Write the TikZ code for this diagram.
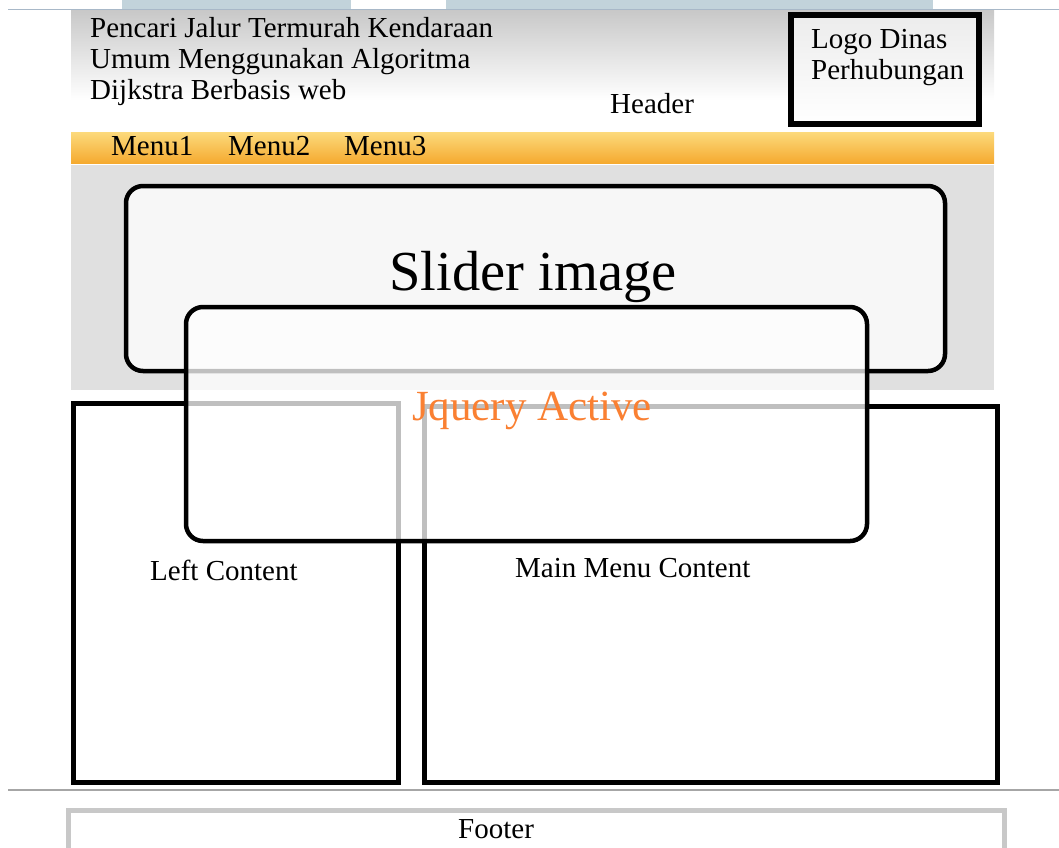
\documentclass[tikz,border=0pt]{standalone}
\usepackage{fontspec}
\setmainfont{Liberation Serif}
\usetikzlibrary{positioning}
\definecolor{hdgray}{RGB}{200,200,200}
\definecolor{logogray}{RGB}{236,236,236}
\definecolor{mnlight}{RGB}{252,218,124}
\definecolor{mndark}{RGB}{245,170,48}
\definecolor{bandgray}{RGB}{224,224,224}
\definecolor{slidefill}{RGB}{247,247,247}
\definecolor{jqorange}{RGB}{250,128,50}
\definecolor{stripblue}{RGB}{194,211,219}
\definecolor{edgeblue}{RGB}{168,184,200}
\definecolor{footgray}{RGB}{200,200,200}

\begin{document}
\begin{tikzpicture}[x=1pt, y=-1pt,
  txt/.style={font=\fontsize{29}{31}\selectfont, inner sep=0pt, anchor=base west},
  frame/.style={draw=black, line width=5pt},
  roundbox/.style={draw=black, line width=4.5pt, rounded corners=17pt}]
\useasboundingbox (0,0) rectangle (1059,847);
% page edge
\fill[stripblue] (122,0) rectangle (351,9);
\fill[stripblue] (446,0) rectangle (933,9);
\draw[edgeblue, line width=1pt] (8,9.5) -- (1059,9.5);
% Header
\shade[top color=hdgray, bottom color=white] (71,10) rectangle (994,100);
\draw[line width=6pt, top color=logogray, bottom color=white] (791,15) rectangle (979,124);
\node[txt, align=left, anchor=north west] (title) at (90,17.5)
  {Pencari Jalur Termurah Kendaraan\\Umum Menggunakan Algoritma\\Dijkstra Berbasis web};
\node[txt] (hdr) at (610,113) {Header};
\node[txt, align=left, anchor=north west] (logo) at (811,29.5)
  {Logo Dinas\\Perhubungan};
% Menu bar
\shade[top color=mnlight, bottom color=mndark] (71,132) rectangle (994,163);
\node[txt] (menuA) at (111,155) {Menu1};
\node[txt] (menuB) at (228,155) {Menu2};
\node[txt] (menuC) at (344,155) {Menu3};
% Slider
\fill[bandgray] (71,165) rectangle (994,390);
\draw[roundbox, fill=slidefill] (126,186) rectangle (945,371);
\node[font=\fontsize{56.5}{60}\selectfont, inner sep=0pt, anchor=base] (slider)
  at (533,290) {Slider image};
% Content boxes
\draw[frame] (73.5,403.5) rectangle (398,782);
\draw[frame] (424,406) rectangle (997,782);
\node[txt] (left) at (150,580) {Left Content};
\node[txt] (mainc) at (515,577) {Main Menu Content};
% Jquery layer
\draw[roundbox, fill=white, fill opacity=0.75] (186,307) rectangle (867,541);
\node[font=\fontsize{43}{46}\selectfont, text=jqorange, inner sep=0pt, anchor=base]
  (jquery) at (532,420) {Jquery Active};
% Footer
\draw[gray!70, line width=1.5pt] (8,790) -- (1059,790);
\draw[footgray, line width=5pt] (68,860) |- (1004,810) -- (1004,860);
\node[txt] (foot) at (458,838) {Footer};
\end{tikzpicture}
\end{document}
